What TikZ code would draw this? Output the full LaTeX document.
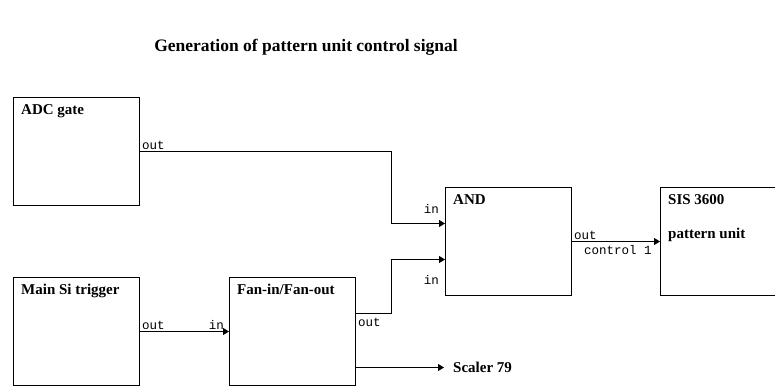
\documentclass[tikz,border=0pt]{standalone}
\usepackage{fontspec}
\setmainfont{Liberation Serif}
\setmonofont{Liberation Mono}
\usetikzlibrary{arrows.meta,calc,positioning}
\tikzset{
  unit/.style={draw,line width=1pt,minimum width=126pt,minimum height=108pt,anchor=north west},
  head/.style={font=\fontsize{15}{17}\selectfont\bfseries,inner sep=0pt,anchor=north west,align=left},
  port/.style={font=\fontsize{12.5}{14}\ttfamily,inner sep=2pt},
  conn/.style={line width=1pt,-{Triangle[length=6pt,width=7pt]}},
  wire/.style={line width=1pt}
}
\begin{document}
\begin{tikzpicture}[x=1pt,y=-1pt]
      \useasboundingbox (0,0) rectangle (775,385);
      % title
      \node[head,anchor=center,font=\fontsize{17.5}{20}\selectfont\bfseries] (title) at (306,47) {Generation of pattern unit control signal};
      % boxes
      \node[unit] (adc) at (13,97) {};
      \node[head] at ([shift={(8pt,-7pt)}]adc.north west) {ADC gate};
      \node[unit] (trig) at (13,277) {};
      \node[head] at ([shift={(8pt,-7pt)}]trig.north west) {Main Si trigger};
      \node[unit] (fan) at (229,277) {};
      \node[head] at ([shift={(8pt,-7pt)}]fan.north west) {Fan-in/Fan-out};
      \node[unit] (and) at (445,187) {};
      \node[head] at ([shift={(8pt,-7pt)}]and.north west) {AND};
      \node[unit] (sis) at (660,187) {};
      \node[head] at ([shift={(8pt,-7pt)}]sis.north west) {SIS 3600\\[17pt]pattern unit};
      % ports
      \coordinate (in1) at ([yshift=18pt]and.west);
      \coordinate (in2) at ([yshift=-18pt]and.west);
      \coordinate (fout) at ([yshift=18pt]fan.east);
      \coordinate (fsc) at ([yshift=-36pt]fan.east);
      \node[head,anchor=west] (scaler) at ([xshift=97pt]fsc) {Scaler 79};
      % connections
      \draw[conn] (adc.east) -| ([xshift=-54pt]in1) -- (in1);
      \draw[conn] (fout) -| ([xshift=-54pt]in2) -- (in2);
      \draw[conn] (trig.east) -- (fan.west);
      \draw[conn] (and.east) -- (sis.west);
      \draw[conn] (fsc) -- ([xshift=-9pt]scaler.west);
      % port labels
      \node[port,above right] at (adc.east) {out};
      \node[port,above right] at (trig.east) {out};
      \node[port,above left,xshift=-3pt] at (fan.west) {in};
      \node[port,below right,yshift=-2pt] at (fout) {out};
      \node[port,above left,xshift=-4pt,yshift=8pt] at (in1) {in};
      \node[port,below left,xshift=-4pt,yshift=-14pt] at (in2) {in};
      \node[port,above right] at (and.east) {out};
      \node[port,below right,xshift=10pt,yshift=-2pt] at (and.east) {control 1};
\end{tikzpicture}
\end{document}
